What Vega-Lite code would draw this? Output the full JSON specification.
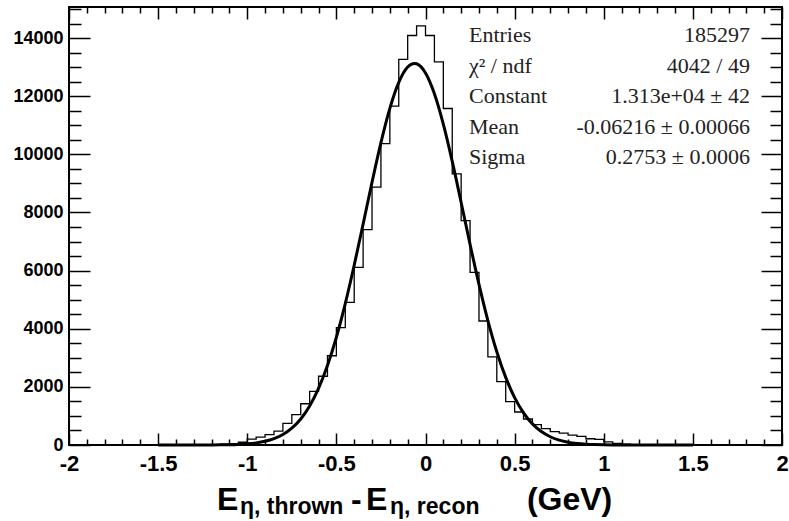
{
  "$schema": "https://vega.github.io/schema/vega-lite/v6.json",
  "width": 713,
  "height": 438,
  "autosize": {"type": "none"},
  "padding": {"left": 69, "top": 7, "right": 7, "bottom": 76},
  "background": "white",
  "config": {
    "view": {"stroke": "black", "strokeWidth": 2},
    "axis": {"grid": false, "domain": false, "tickColor": "black", "labelColor": "black", "tickWidth": 1.5}
  },
  "datasets": {
    "hist": [
      {"x": -1.5, "count": 0}, {"x": -1.45, "count": 0}, {"x": -1.4, "count": 0}, {"x": -1.35, "count": 0},
      {"x": -1.3, "count": 2}, {"x": -1.25, "count": 8}, {"x": -1.2, "count": 15}, {"x": -1.15, "count": 25},
      {"x": -1.1, "count": 45}, {"x": -1.05, "count": 95}, {"x": -1.0, "count": 204}, {"x": -0.95, "count": 273},
      {"x": -0.9, "count": 360}, {"x": -0.85, "count": 480}, {"x": -0.8, "count": 745}, {"x": -0.75, "count": 1043},
      {"x": -0.7, "count": 1420}, {"x": -0.65, "count": 1848}, {"x": -0.6, "count": 2366}, {"x": -0.55, "count": 3070},
      {"x": -0.5, "count": 4038}, {"x": -0.45, "count": 4910}, {"x": -0.4, "count": 6110}, {"x": -0.35, "count": 7410},
      {"x": -0.3, "count": 8874}, {"x": -0.25, "count": 10370}, {"x": -0.2, "count": 11660}, {"x": -0.15, "count": 13271},
      {"x": -0.1, "count": 14090}, {"x": -0.05, "count": 14420}, {"x": 0.0, "count": 14090}, {"x": 0.05, "count": 13180},
      {"x": 0.1, "count": 11578}, {"x": 0.15, "count": 9330}, {"x": 0.2, "count": 7720}, {"x": 0.25, "count": 5937},
      {"x": 0.3, "count": 4266}, {"x": 0.35, "count": 3030}, {"x": 0.4, "count": 2180}, {"x": 0.45, "count": 1490},
      {"x": 0.5, "count": 1136}, {"x": 0.55, "count": 894}, {"x": 0.6, "count": 698}, {"x": 0.65, "count": 560},
      {"x": 0.7, "count": 460}, {"x": 0.75, "count": 410}, {"x": 0.8, "count": 340}, {"x": 0.85, "count": 300},
      {"x": 0.9, "count": 215}, {"x": 0.95, "count": 195}, {"x": 1.0, "count": 110}, {"x": 1.05, "count": 55},
      {"x": 1.1, "count": 30}, {"x": 1.15, "count": 15}, {"x": 1.2, "count": 8}, {"x": 1.25, "count": 3},
      {"x": 1.3, "count": 0}, {"x": 1.35, "count": 0}, {"x": 1.4, "count": 0}, {"x": 1.45, "count": 0},
      {"x": 1.5, "count": 0}
    ],
    "fit": [
      {"x": -1.5, "y": 0}, {"x": -1.4, "y": 0.1}, {"x": -1.3, "y": 0.5}, {"x": -1.25, "y": 1.2},
      {"x": -1.2, "y": 2.6}, {"x": -1.15, "y": 5.4}, {"x": -1.1, "y": 10.8}, {"x": -1.05, "y": 21},
      {"x": -1.0, "y": 39.7}, {"x": -0.95, "y": 72.4}, {"x": -0.9, "y": 127.9}, {"x": -0.85, "y": 218.7},
      {"x": -0.8, "y": 361.8}, {"x": -0.75, "y": 579}, {"x": -0.7, "y": 896.7}, {"x": -0.65, "y": 1343.6},
      {"x": -0.6, "y": 1947.7}, {"x": -0.55, "y": 2731.7}, {"x": -0.5, "y": 3707.1}, {"x": -0.45, "y": 4867.3},
      {"x": -0.4, "y": 6183.8}, {"x": -0.35, "y": 7601.4}, {"x": -0.3, "y": 9040}, {"x": -0.25, "y": 10403.6},
      {"x": -0.2, "y": 11583.2}, {"x": -0.15, "y": 12478.4}, {"x": -0.1, "y": 13006.6}, {"x": -0.062, "y": 13130},
      {"x": -0.05, "y": 13117.2}, {"x": 0.0, "y": 12799.5}, {"x": 0.05, "y": 12084.3}, {"x": 0.1, "y": 11038.8},
      {"x": 0.15, "y": 9755.9}, {"x": 0.2, "y": 8343.9}, {"x": 0.25, "y": 6903.6}, {"x": 0.3, "y": 5526.9},
      {"x": 0.35, "y": 4281.3}, {"x": 0.4, "y": 3208.8}, {"x": 0.45, "y": 2326.6}, {"x": 0.5, "y": 1632.6},
      {"x": 0.55, "y": 1108.3}, {"x": 0.6, "y": 727.9}, {"x": 0.65, "y": 462.6}, {"x": 0.7, "y": 284.4},
      {"x": 0.75, "y": 169.2}, {"x": 0.8, "y": 97.4}, {"x": 0.85, "y": 54.2}, {"x": 0.9, "y": 29.2},
      {"x": 0.95, "y": 15.2}, {"x": 1.0, "y": 7.7}, {"x": 1.05, "y": 3.8}, {"x": 1.1, "y": 1.8},
      {"x": 1.2, "y": 0.4}, {"x": 1.3, "y": 0.1}, {"x": 1.5, "y": 0}
    ],
    "stats": [
      {"stat": "Entries", "value": "185297"},
      {"stat": "χ² / ndf", "value": "4042 / 49"},
      {"stat": "Constant", "value": "1.313e+04 ± 42"},
      {"stat": "Mean", "value": "-0.06216 ± 0.00066"},
      {"stat": "Sigma", "value": "0.2753 ± 0.0006"}
    ],
    "one": [{"k": 1}]
  },
  "resolve": {"scale": {"y": "independent"}, "axis": {"x": "independent", "y": "independent"}},
  "layer": [
    {
      "data": {"name": "hist"},
      "mark": {"type": "line", "interpolate": "step-after", "stroke": "black", "strokeWidth": 1.3},
      "encoding": {
        "x": {"field": "x", "type": "quantitative", "scale": {"domain": [-2, 2], "nice": false, "zero": false},
          "axis": {"orient": "bottom", "values": [-2, -1.5, -1, -0.5, 0, 0.5, 1, 1.5, 2], "ticks": false,
            "labelFont": "Liberation Sans", "labelFontWeight": "bold", "labelFontSize": 22, "labelPadding": 8,
            "labelFlush": false, "labelOverlap": false, "labelExpr": "'' + datum.value", "title": null}},
        "y": {"field": "count", "type": "quantitative", "scale": {"domain": [0, 15070], "nice": false},
          "axis": {"orient": "left", "values": [0, 2000, 4000, 6000, 8000, 10000, 12000, 14000], "ticks": false,
            "labelFont": "Liberation Sans", "labelFontWeight": "bold", "labelFontSize": 18, "labelPadding": 6,
            "labelOverlap": false, "labelExpr": "'' + datum.value", "title": null}}
      }
    },
    {
      "data": {"name": "fit"},
      "mark": {"type": "line", "interpolate": "monotone", "stroke": "black", "strokeWidth": 3},
      "encoding": {
        "x": {"field": "x", "type": "quantitative", "scale": {"domain": [-2, 2], "nice": false, "zero": false},
          "axis": {"orient": "bottom", "values": [-2, -1.5, -1, -0.5, 0, 0.5, 1, 1.5, 2], "labels": false, "tickSize": -12, "title": null}},
        "y": {"field": "y", "type": "quantitative", "scale": {"domain": [0, 15070], "nice": false},
          "axis": {"orient": "left", "values": [0, 2000, 4000, 6000, 8000, 10000, 12000, 14000], "labels": false, "tickSize": -21, "title": null}}
      }
    },
    {
      "data": {"name": "one"},
      "mark": {"type": "text", "text": "E", "font": "Liberation Sans", "fontWeight": "bold", "fontSize": 32, "align": "left", "baseline": "alphabetic", "color": "black"},
      "encoding": {
        "x": {"datum": -1.17, "type": "quantitative", "scale": {"domain": [-2, 2], "nice": false, "zero": false},
          "axis": {"orient": "bottom", "values": [-1.9, -1.8, -1.7, -1.6, -1.4, -1.3, -1.2, -1.1, -0.9, -0.8, -0.7, -0.6, -0.4, -0.3, -0.2, -0.1, 0.1, 0.2, 0.3, 0.4, 0.6, 0.7, 0.8, 0.9, 1.1, 1.2, 1.3, 1.4, 1.6, 1.7, 1.8, 1.9], "labels": false, "tickSize": -6, "title": null}},
        "y": {"datum": -2236, "type": "quantitative", "scale": {"domain": [0, 15070], "nice": false},
          "axis": {"orient": "left", "values": [500, 1000, 1500, 2500, 3000, 3500, 4500, 5000, 5500, 6500, 7000, 7500, 8500, 9000, 9500, 10500, 11000, 11500, 12500, 13000, 13500, 14500, 15000], "labels": false, "tickSize": -12, "title": null}}
      }
    },
    {
      "data": {"name": "one"},
      "mark": {"type": "text", "text": "η, thrown", "font": "Liberation Sans", "fontWeight": "bold", "fontSize": 23, "align": "left", "baseline": "alphabetic", "color": "black"},
      "encoding": {
        "x": {"datum": -1.041, "type": "quantitative", "scale": {"domain": [-2, 2], "nice": false, "zero": false},
          "axis": {"orient": "top", "values": [-2, -1.5, -1, -0.5, 0, 0.5, 1, 1.5, 2], "labels": false, "tickSize": -12, "title": null}},
        "y": {"datum": -2374, "type": "quantitative", "scale": {"domain": [0, 15070], "nice": false},
          "axis": {"orient": "right", "values": [0, 2000, 4000, 6000, 8000, 10000, 12000, 14000], "labels": false, "tickSize": -21, "title": null}}
      }
    },
    {
      "data": {"name": "one"},
      "mark": {"type": "text", "text": "-", "font": "Liberation Sans", "fontWeight": "bold", "fontSize": 32, "align": "left", "baseline": "alphabetic", "color": "black"},
      "encoding": {
        "x": {"datum": -0.418, "type": "quantitative", "scale": {"domain": [-2, 2], "nice": false, "zero": false},
          "axis": {"orient": "top", "values": [-1.9, -1.8, -1.7, -1.6, -1.4, -1.3, -1.2, -1.1, -0.9, -0.8, -0.7, -0.6, -0.4, -0.3, -0.2, -0.1, 0.1, 0.2, 0.3, 0.4, 0.6, 0.7, 0.8, 0.9, 1.1, 1.2, 1.3, 1.4, 1.6, 1.7, 1.8, 1.9], "labels": false, "tickSize": -6, "title": null}},
        "y": {"datum": -2236, "type": "quantitative", "scale": {"domain": [0, 15070], "nice": false},
          "axis": {"orient": "right", "values": [500, 1000, 1500, 2500, 3000, 3500, 4500, 5000, 5500, 6500, 7000, 7500, 8500, 9000, 9500, 10500, 11000, 11500, 12500, 13000, 13500, 14500, 15000], "labels": false, "tickSize": -12, "title": null}}
      }
    },
    {
      "data": {"name": "one"},
      "mark": {"type": "text", "text": "E", "font": "Liberation Sans", "fontWeight": "bold", "fontSize": 32, "align": "left", "baseline": "alphabetic", "color": "black"},
      "encoding": {
        "x": {"datum": -0.334, "type": "quantitative", "scale": {"domain": [-2, 2], "nice": false, "zero": false}, "axis": null},
        "y": {"datum": -2236, "type": "quantitative", "scale": {"domain": [0, 15070], "nice": false}, "axis": null}
      }
    },
    {
      "data": {"name": "one"},
      "mark": {"type": "text", "text": "η, recon", "font": "Liberation Sans", "fontWeight": "bold", "fontSize": 23, "align": "left", "baseline": "alphabetic", "color": "black"},
      "encoding": {
        "x": {"datum": -0.199, "type": "quantitative", "scale": {"domain": [-2, 2], "nice": false, "zero": false}, "axis": null},
        "y": {"datum": -2374, "type": "quantitative", "scale": {"domain": [0, 15070], "nice": false}, "axis": null}
      }
    },
    {
      "data": {"name": "one"},
      "mark": {"type": "text", "text": "(GeV)", "font": "Liberation Sans", "fontWeight": "bold", "fontSize": 32, "align": "left", "baseline": "alphabetic", "color": "black"},
      "encoding": {
        "x": {"datum": 0.569, "type": "quantitative", "scale": {"domain": [-2, 2], "nice": false, "zero": false}, "axis": null},
        "y": {"datum": -2236, "type": "quantitative", "scale": {"domain": [0, 15070], "nice": false}, "axis": null}
      }
    },
    {
      "data": {"name": "stats"},
      "mark": {"type": "text", "font": "Liberation Serif", "fontSize": 22, "align": "left", "baseline": "middle", "color": "#222"},
      "encoding": {
        "x": {"datum": 0.244, "type": "quantitative", "scale": {"domain": [-2, 2], "nice": false, "zero": false}, "axis": null},
        "y": {"field": "stat", "type": "nominal", "sort": null, "scale": {"type": "point", "range": [28, 150], "padding": 0}, "axis": null},
        "text": {"field": "stat", "type": "nominal"}
      }
    },
    {
      "data": {"name": "stats"},
      "mark": {"type": "text", "font": "Liberation Serif", "fontSize": 22, "align": "right", "baseline": "middle", "color": "#222"},
      "encoding": {
        "x": {"datum": 1.82, "type": "quantitative", "scale": {"domain": [-2, 2], "nice": false, "zero": false}, "axis": null},
        "y": {"field": "stat", "type": "nominal", "sort": null, "scale": {"type": "point", "range": [28, 150], "padding": 0}, "axis": null},
        "text": {"field": "value", "type": "nominal"}
      }
    }
  ]
}
